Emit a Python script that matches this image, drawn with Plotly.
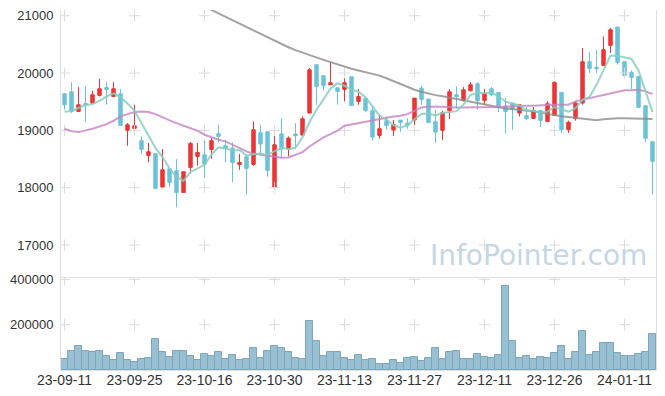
import plotly.graph_objects as go
import pandas as pd

dates = [
    "23-09-11", "23-09-12", "23-09-13", "23-09-14", "23-09-15",
    "23-09-18", "23-09-19", "23-09-20", "23-09-21", "23-09-22",
    "23-09-25", "23-09-26", "23-09-27",
    "23-10-04", "23-10-05", "23-10-06",
    "23-10-10", "23-10-11", "23-10-12", "23-10-13",
    "23-10-16", "23-10-17", "23-10-18", "23-10-19", "23-10-20",
    "23-10-23", "23-10-24", "23-10-25", "23-10-26", "23-10-27",
    "23-10-30", "23-10-31", "23-11-01", "23-11-02", "23-11-03",
    "23-11-06", "23-11-07", "23-11-08", "23-11-09", "23-11-10",
    "23-11-13", "23-11-14", "23-11-15", "23-11-16", "23-11-17",
    "23-11-20", "23-11-21", "23-11-22", "23-11-23", "23-11-24",
    "23-11-27", "23-11-28", "23-11-29", "23-11-30", "23-12-01",
    "23-12-04", "23-12-05", "23-12-06", "23-12-07", "23-12-08",
    "23-12-11", "23-12-12", "23-12-13", "23-12-14", "23-12-15",
    "23-12-18", "23-12-19", "23-12-20", "23-12-21", "23-12-22",
    "23-12-26", "23-12-27", "23-12-28",
    "24-01-02", "24-01-03", "24-01-04", "24-01-05",
    "24-01-08", "24-01-09", "24-01-10", "24-01-11", "24-01-12",
    "24-01-15", "24-01-16", "24-01-17",
]

opens = [19639, 19674, 19331, 19470, 19476, 19610, 19749, 19592, 19639, 19000,
         19034, 18819, 18563, 18593, 18011, 18331, 18296, 17918, 18354, 18546,
         18575, 18668, 18941, 18732, 18691, 18407, 18540, 18407, 18959, 18976,
         18011, 18941, 18674, 18936, 18918, 19302, 20145, 19953, 19796, 19743,
         19714, 19935, 19505, 19558, 19342, 18912, 19168, 19005, 19180, 19127,
         19180, 19738, 19546, 19151, 19000, 19342, 19621, 19523, 19691, 19813,
         19523, 19726, 19660, 19430, 19477, 19302, 19256, 19209, 19349, 19157,
         19262, 19663, 19012, 19204, 19477, 20198, 20099, 20134, 20482, 20802,
         20198, 20012, 19942, 19430, 18803]
highs = [19650, 19842, 19755, 19770, 19691, 19900, 19842, 19842, 19720, 19127,
         19447, 18895, 18779, 18593, 18674, 18331, 18500, 18279, 18796, 18779,
         18837, 18866, 19098, 18837, 18790, 18587, 18540, 19156, 19098, 18976,
         18924, 19214, 18895, 19127, 19244, 20087, 20145, 19953, 20191, 19743,
         19935, 19935, 19720, 19558, 19418, 19273, 19244, 19180, 19180, 19214,
         19563, 19778, 19546, 19360, 19342, 19720, 19767, 19755, 19842, 19842,
         19726, 19755, 19660, 19564, 19477, 19448, 19407, 19407, 19349, 19506,
         19855, 19663, 19169, 19506, 20436, 20366, 20407, 20639, 20785, 20802,
         20198, 20046, 19942, 19430, 18803]
lows = [19360, 19302, 19331, 19156, 19476, 19592, 19447, 19592, 19087, 18732,
        18994, 18593, 18447, 17988, 18011, 18011, 17657, 17918, 18244, 18383,
        18168, 18505, 18796, 18447, 18093, 18313, 17877, 18383, 18587, 18191,
        18011, 18517, 18546, 18680, 18918, 19302, 19447, 19691, 19796, 19447,
        19505, 19435, 19447, 19319, 18825, 18854, 19011, 18906, 18976, 19029,
        19069, 19447, 19139, 18779, 18837, 19197, 19389, 19505, 19680, 19360,
        19447, 19592, 19319, 18942, 19012, 19244, 19174, 19209, 19058, 19145,
        19262, 18954, 18954, 19169, 19448, 20000, 20000, 20134, 20349, 20145,
        19913, 19721, 19401, 18797, 17878]
closes = [19447, 19331, 19447, 19450, 19621, 19726, 19714, 19726, 19087, 19098,
          19081, 18668, 18627, 17988, 18313, 18093, 17918, 18279, 18773, 18616,
          18412, 18819, 18895, 18686, 18441, 18441, 18337, 19011, 18761, 18302,
          18749, 18674, 18866, 18906, 19203, 20057, 19767, 19784, 19831, 19680,
          19831, 19435, 19592, 19348, 18883, 19029, 19087, 19098, 19139, 19087,
          19563, 19540, 19139, 18970, 19308, 19674, 19587, 19709, 19796, 19517,
          19639, 19621, 19400, 19331, 19372, 19448, 19204, 19349, 19174, 19465,
          19837, 19012, 19140, 19477, 20198, 20081, 20075, 20407, 20756, 20186,
          19959, 19924, 19401, 18861, 18460]
volumes = [50000, 86000, 104000, 86000, 81000, 86000, 64000, 46000, 77000, 46000,
           37000, 50000, 55000, 135000, 81000, 59000, 86000, 86000, 64000, 46000,
           72000, 64000, 81000, 50000, 68000, 46000, 50000, 99000, 55000, 86000,
           104000, 99000, 81000, 55000, 50000, 215000, 126000, 64000, 81000, 81000,
           55000, 46000, 68000, 46000, 50000, 27000, 27000, 46000, 32000, 55000,
           59000, 41000, 55000, 95000, 50000, 81000, 86000, 50000, 50000, 72000,
           59000, 55000, 68000, 370000, 126000, 55000, 64000, 50000, 59000, 55000,
           77000, 108000, 50000, 81000, 170000, 68000, 81000, 117000, 117000, 77000,
           64000, 64000, 72000, 81000, 161000]

ma5_head = [19331, 19335, 19390, 19440]
ma20 = [19028, 18985, 18970, 18994, 19028, 19069, 19110, 19168, 19244, 19284,
        19319, 19331, 19319, 19284, 19226, 19174, 19127, 19087, 19040, 18994,
        18924, 18877, 18837, 18808, 18749, 18680, 18633, 18593, 18575, 18546,
        18529, 18523, 18529, 18575, 18621, 18720, 18796, 18877, 18936, 18994,
        19081, 19105, 19127, 19156, 19180, 19203, 19226, 19244, 19255, 19284,
        19342, 19400, 19418, 19418, 19418, 19406, 19400, 19400, 19406, 19406,
        19400, 19400, 19395, 19407, 19419, 19430, 19430, 19430, 19430, 19442,
        19448, 19442, 19448, 19506, 19535, 19552, 19581, 19622, 19651, 19680,
        19698, 19698, 19709, 19680, 19634]
ma60 = [None] * 19 + [
        21260, 21180, 21100, 21040, 20980, 20920, 20860, 20800, 20745, 20690,
        20630, 20570, 20510, 20450, 20400, 20355, 20310, 20270, 20230, 20190,
        20150, 20110, 20075, 20045, 20015, 19985, 19955, 19910, 19860, 19810,
        19755, 19710, 19675, 19640, 19615, 19595, 19570, 19545, 19520, 19495,
        19470, 19445, 19420, 19400, 19380, 19370, 19360, 19350, 19335, 19310,
        19285, 19265, 19245, 19235, 19220, 19205, 19180, 19175, 19195, 19205,
        19210, 19210, 19208, 19205, 19200, 19198]

price_ticks = [17000, 18000, 19000, 20000, 21000]
vol_ticks = [200000, 400000]
tick_dates = dates[::10]

ma5 = ma5_head + list(pd.Series(closes).rolling(5).mean().iloc[4:])

fig = go.Figure()

fig.add_trace(go.Candlestick(
    x=dates, open=opens, high=highs, low=lows, close=closes,
    increasing=dict(line=dict(color="#ee3434", width=1), fillcolor="#ee3434"),
    decreasing=dict(line=dict(color="#6cc3d9", width=1), fillcolor="#6cc3d9"),
    whiskerwidth=0, xaxis="x", yaxis="y"))

# grid crosses at tick intersections
cx = [d for d in tick_dates for _ in price_ticks]
cy = [v for _ in tick_dates for v in price_ticks]
fig.add_trace(go.Scatter(x=cx, y=cy, mode="markers", xaxis="x", yaxis="y",
                         marker=dict(symbol="cross-thin", size=8,
                                     line=dict(color="#dcdcdc", width=1)),
                         hoverinfo="skip"))
vx = [d for d in tick_dates for _ in vol_ticks]
vy = [v for _ in tick_dates for v in vol_ticks]
fig.add_trace(go.Scatter(x=vx, y=vy, mode="markers", xaxis="x2", yaxis="y2",
                         marker=dict(symbol="cross-thin", size=8,
                                     line=dict(color="#dcdcdc", width=1)),
                         hoverinfo="skip"))

fig.add_trace(go.Scatter(x=dates, y=ma60, mode="lines", xaxis="x", yaxis="y",
                         line=dict(color="rgba(140,140,140,0.8)", width=2)))
fig.add_trace(go.Scatter(x=dates, y=ma20, mode="lines", xaxis="x", yaxis="y",
                         line=dict(color="rgba(196,130,194,0.8)", width=2)))
fig.add_trace(go.Scatter(x=dates, y=ma5, mode="lines", xaxis="x", yaxis="y",
                         line=dict(color="rgba(135,206,190,0.85)", width=2)))

fig.add_trace(go.Bar(x=dates, y=volumes, xaxis="x2", yaxis="y2",
                     marker=dict(color="#98bfd2", line=dict(color="#7ba6bc", width=1))))

split = 92 / 360
y_font = dict(family="Liberation Sans", size=13, color="#333333")
x_font = dict(family="Liberation Sans", size=14, color="#333333")
line_col = "#e0e0e0"

fig.update_layout(
    width=665, height=396,
    margin=dict(l=61, r=9, t=10, b=26, autoexpand=False),
    paper_bgcolor="white", plot_bgcolor="white",
    showlegend=False, hovermode=False, bargap=0,
    xaxis=dict(type="category", categoryorder="array", categoryarray=dates,
               domain=[0, 1], anchor="y", automargin=False,
               range=[-0.5, 84.5], showticklabels=False, showgrid=False,
               showline=False, zeroline=False, rangeslider=dict(visible=False),
               fixedrange=True),
    yaxis=dict(domain=[split, 1], range=[16425, 21100], tickvals=price_ticks,
               tickformat="d", automargin=False,
               showgrid=False, zeroline=False, showline=True, mirror=True,
               linecolor=line_col, linewidth=1, tickfont=y_font,
               ticks="outside", ticklen=4, tickcolor="rgba(0,0,0,0)"),
    xaxis2=dict(type="category", categoryorder="array", categoryarray=dates,
                domain=[0, 1], anchor="y2", matches="x", automargin=False,
                range=[-0.5, 84.5], tickmode="array", tickvals=tick_dates,
                ticktext=tick_dates, tickangle=0, ticklabelstandoff=-3,
                showgrid=False, zeroline=False, showline=True, mirror=True,
                linecolor=line_col, linewidth=1, tickfont=x_font,
                ticks=""),
    yaxis2=dict(domain=[0, split], range=[0, 406000], tickvals=vol_ticks,
                tickformat="d", automargin=False,
                showgrid=False, zeroline=False, showline=True, mirror=True,
                linecolor=line_col, linewidth=1, tickfont=y_font,
                ticks="outside", ticklen=4, tickcolor="rgba(0,0,0,0)"),
    annotations=[dict(text="InfoPointer.com", xref="paper", yref="paper",
                      x=0.988, y=(370 - 255) / 360, xanchor="right", yanchor="middle",
                      showarrow=False,
                      font=dict(family="DejaVu Sans", size=28, color="#c6d6e2"))],
)

fig.write_html("out.html", config={"displayModeBar": False},
               post_script="document.body.style.margin='0';")
